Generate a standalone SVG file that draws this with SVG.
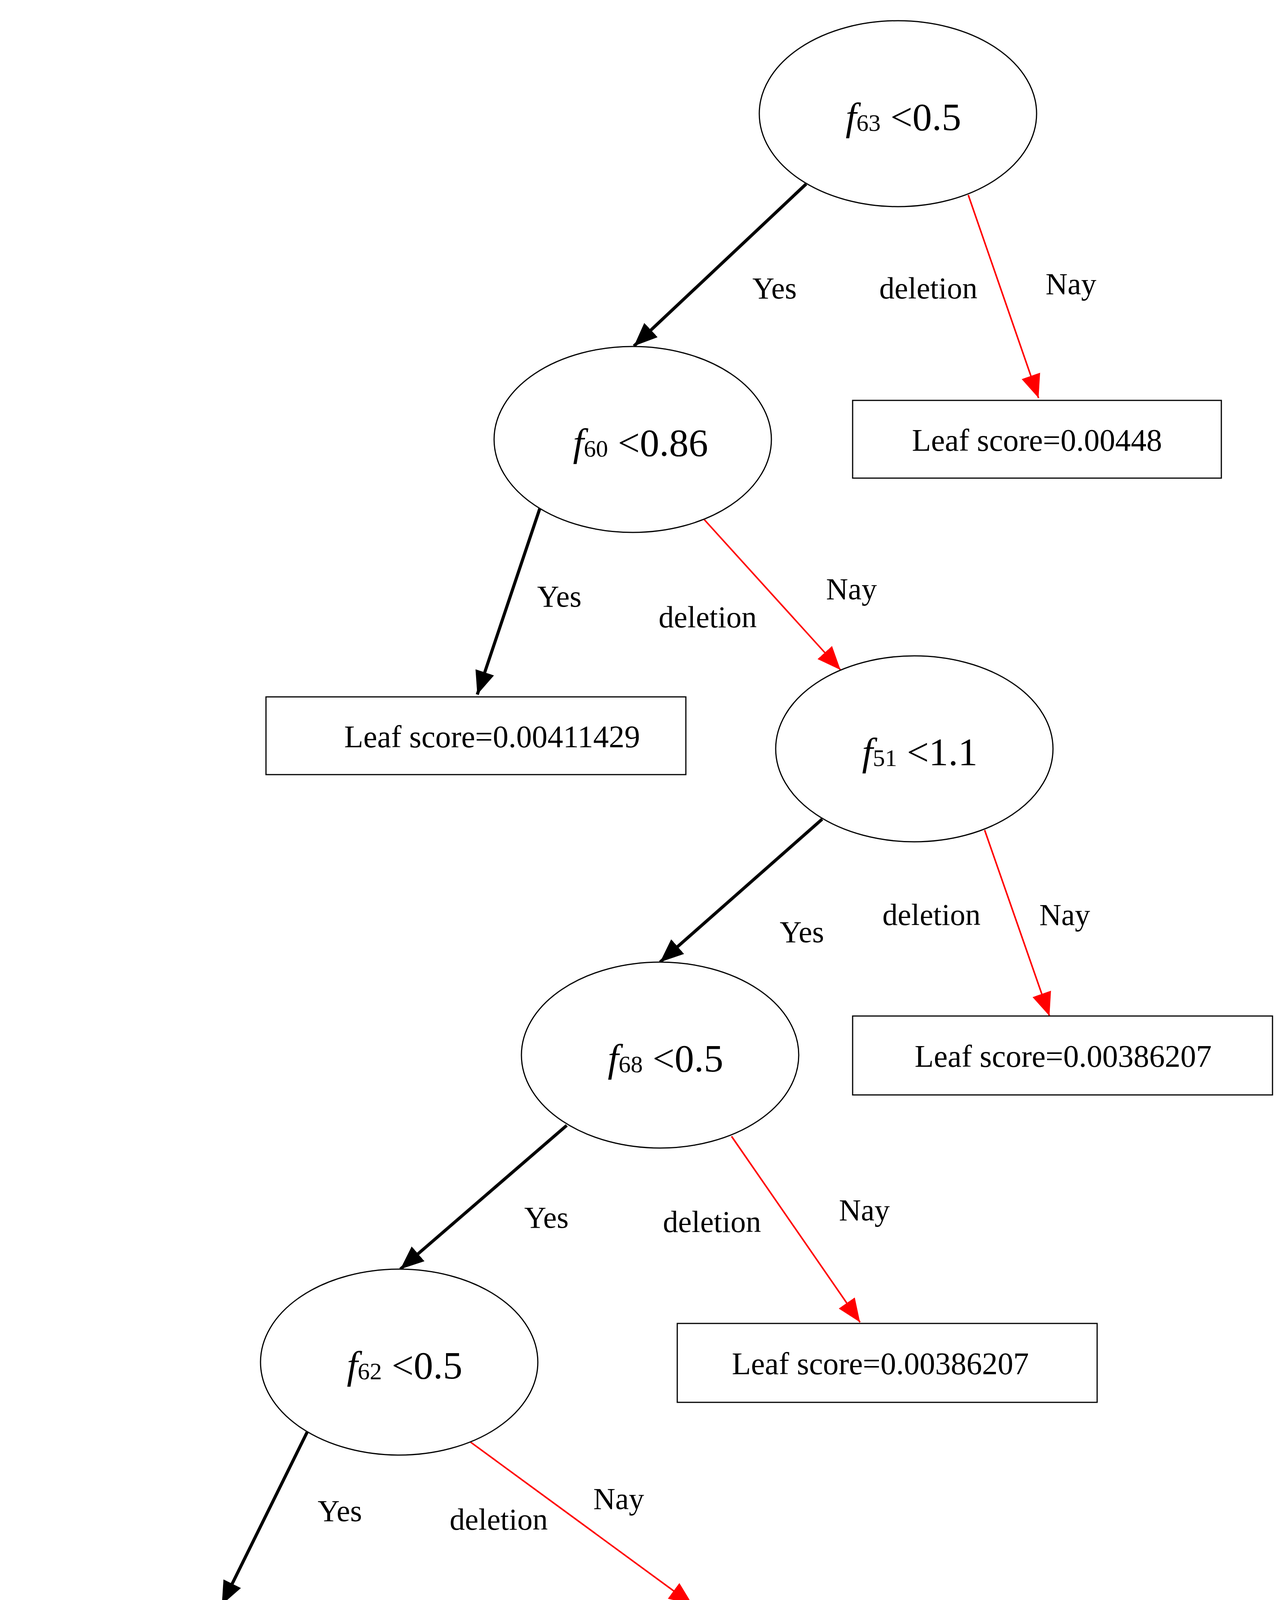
<svg xmlns="http://www.w3.org/2000/svg" width="3290" height="4338" viewBox="0 0 3290 4338">
<style>
text{font-family:"Liberation Serif","Times New Roman",serif;fill:#000}
.n ellipse{fill:#fff;stroke:#000;stroke-width:3}
.n text{font-size:100px;text-anchor:middle;dominant-baseline:central}
.s{font-size:62px;font-style:normal}
.f{font-style:italic}
.l rect{fill:#fff;stroke:#000;stroke-width:3}
.l text{font-size:80px;text-anchor:middle;dominant-baseline:central}
.lab{font-size:78px;text-anchor:middle;dominant-baseline:central}
.b{stroke:#000;stroke-width:8;fill:none;marker-end:url(#ab)}
.r{stroke:#f00;stroke-width:4;fill:none;marker-end:url(#ar)}
</style>
<defs>
<marker id="ab" markerUnits="userSpaceOnUse" markerWidth="70" markerHeight="50" refX="60" refY="25" orient="auto"><path d="M0,0 L60,25 L0,50 Z" fill="#000"/></marker>
<marker id="ar" markerUnits="userSpaceOnUse" markerWidth="70" markerHeight="50" refX="60" refY="25" orient="auto"><path d="M0,0 L60,25 L0,50 Z" fill="#f00"/></marker>
</defs>
<rect width="3290" height="4338" fill="#fff"/>
<g id="connectors">
<line class="b" x1="2064" y1="471" x2="1623" y2="886"/>
<line class="r" x1="2479" y1="499" x2="2659" y2="1019"/>
<line class="b" x1="1382" y1="1302" x2="1222" y2="1778"/>
<line class="r" x1="1803" y1="1330" x2="2152" y2="1715"/>
<line class="b" x1="2105" y1="2097" x2="1690" y2="2463"/>
<line class="r" x1="2521" y1="2125" x2="2687" y2="2601"/>
<line class="b" x1="1451" y1="2881" x2="1025" y2="3249"/>
<line class="r" x1="1873" y1="2909" x2="2202" y2="3385"/>
<line class="b" x1="787" y1="3665" x2="568" y2="4108"/>
<line class="r" x1="1205" y1="3692" x2="1773" y2="4108"/>
<text class="lab" x="1983" y="737">Yes</text><text class="lab" x="2377" y="737">deletion</text><text class="lab" x="2742" y="726">Nay</text>
<text class="lab" x="1432" y="1526">Yes</text><text class="lab" x="1812" y="1579">deletion</text><text class="lab" x="2180" y="1507">Nay</text>
<text class="lab" x="2053" y="2385">Yes</text><text class="lab" x="2385" y="2341">deletion</text><text class="lab" x="2726" y="2341">Nay</text>
<text class="lab" x="1399" y="3116">Yes</text><text class="lab" x="1823" y="3127">deletion</text><text class="lab" x="2213" y="3097">Nay</text>
<text class="lab" x="870" y="3867">Yes</text><text class="lab" x="1277" y="3889">deletion</text><text class="lab" x="1584" y="3836">Nay</text>
</g>
<g id="n63" class="n"><ellipse cx="2299" cy="291" rx="355" ry="238"/><text x="2313" y="299"><tspan class="f">f</tspan><tspan class="s" dy="15">63</tspan><tspan dy="-15"> &lt;0.5</tspan></text></g>
<g id="n60" class="n"><ellipse cx="1620" cy="1125" rx="355" ry="238"/><text x="1640" y="1133"><tspan class="f">f</tspan><tspan class="s" dy="15">60</tspan><tspan dy="-15"> &lt;0.86</tspan></text></g>
<g id="n51" class="n"><ellipse cx="2341" cy="1917" rx="355" ry="238"/><text x="2355" y="1925"><tspan class="f">f</tspan><tspan class="s" dy="15">51</tspan><tspan dy="-15"> &lt;1.1</tspan></text></g>
<g id="n68" class="n"><ellipse cx="1690" cy="2701" rx="355" ry="238"/><text x="1704" y="2709"><tspan class="f">f</tspan><tspan class="s" dy="15">68</tspan><tspan dy="-15"> &lt;0.5</tspan></text></g>
<g id="n62" class="n"><ellipse cx="1022" cy="3487" rx="355" ry="238"/><text x="1036" y="3495"><tspan class="f">f</tspan><tspan class="s" dy="15">62</tspan><tspan dy="-15"> &lt;0.5</tspan></text></g>
<g id="leaf1" class="l"><rect x="2183" y="1025" width="944" height="199"/><text x="2655" y="1127">Leaf score=0.00448</text></g>
<g id="leaf2" class="l"><rect x="681" y="1784" width="1075" height="199"/><text x="1260" y="1886">Leaf score=0.00411429</text></g>
<g id="leaf3" class="l"><rect x="2183" y="2601" width="1075" height="202"/><text x="2722" y="2704">Leaf score=0.00386207</text></g>
<g id="leaf4" class="l"><rect x="1734" y="3388" width="1075" height="202"/><text x="2254" y="3491">Leaf score=0.00386207</text></g>
<g id="leaf5" class="l"><rect x="28" y="4111" width="1072" height="199"/><text x="590" y="4213">Leaf score=0.00407232</text></g>
<g id="leaf6" class="l"><rect x="1235" y="4111" width="1075" height="199"/><text x="1772" y="4213">Leaf score=0.00369231</text></g>
</svg>
